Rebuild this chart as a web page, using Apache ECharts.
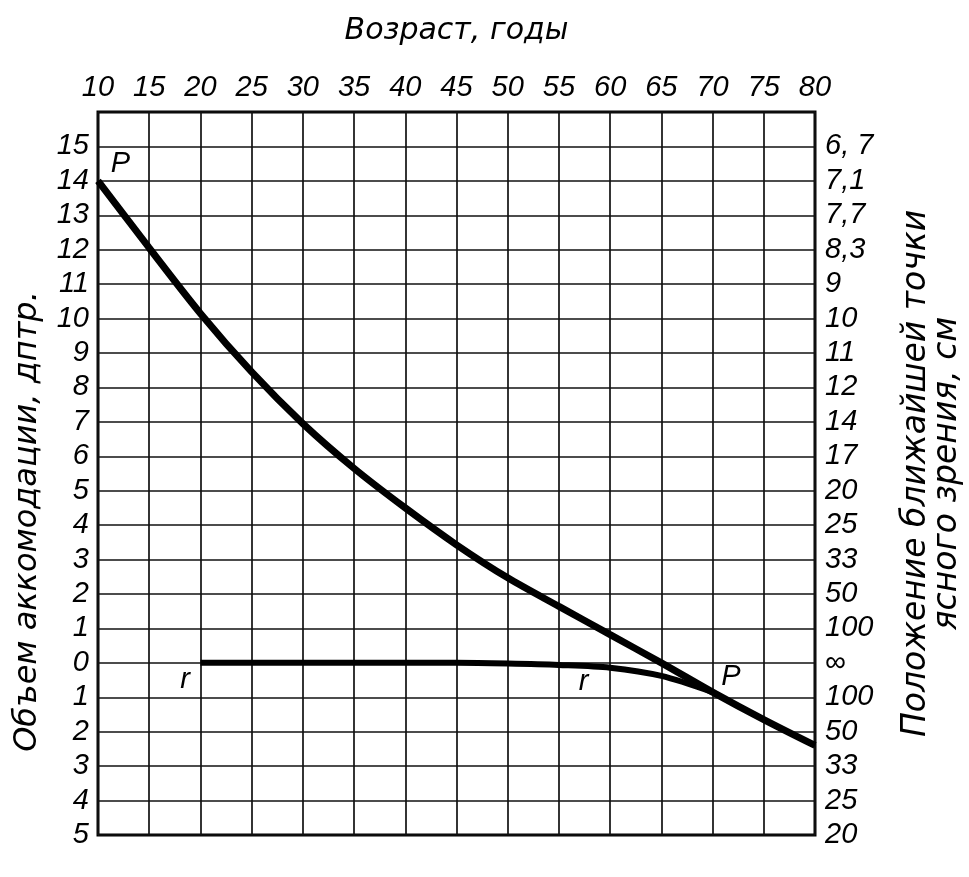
<!DOCTYPE html>
<html>
<head>
<meta charset="utf-8">
<script src="https://cdn.jsdelivr.net/npm/echarts@6/dist/echarts.min.js"></script>
<style>
html,body{margin:0;padding:0;background:#fff;overflow:hidden;}
#chart{width:969px;height:877px;}
</style>
</head>
<body>
<div id="chart"></div>
<script>
// Age axis (years)
const ageMin = 10, ageMax = 80, ageStep = 5;
// Accommodation axis (diopters)
const dMin = -5, dMax = 16, dStep = 1;
// Left tick labels for values -5 .. 15
const leftLabels = ['5','4','3','2','1','0','1','2','3','4','5','6','7','8','9','10','11','12','13','14','15'];
// Right tick labels (near point distance, cm) for values -5 .. 15
const rightLabels = ['20','25','33','50','100','∞','100','50','33','25','20','17','14','12','11','10','9','8,3','7,7','7,1','6, 7'];

// Curve P (near point)
const pAges   = [10, 15, 20, 25, 30, 35, 40, 45, 50, 55, 60, 65, 70, 75, 80];
const pValues = [14, 12.05, 10.15, 8.45, 6.95, 5.65, 4.5, 3.43, 2.47, 1.64, 0.82, 0.0, -0.85, -1.65, -2.4];
// Curve r (far point)
const rAges   = [20, 25, 30, 35, 40, 45, 50, 55, 60, 65, 70];
const rValues = [0, 0, 0, 0, 0, 0, -0.02, -0.06, -0.14, -0.38, -0.85];

// Curve annotations
const noteNames = ['P', 'r', 'r', 'P'];
const noteAges  = [12.2, 18.5, 57.4, 71.8];
const noteVals  = [14.5, -0.5, -0.55, -0.4];

const tickFont = {fontFamily: '"Liberation Sans", Arial, sans-serif', fontStyle: 'italic', fontSize: 29, color: '#000'};
const titleFont = {fontFamily: '"DejaVu Sans", sans-serif', fontStyle: 'italic', color: '#000'};

const chart = echarts.init(document.getElementById('chart'), null, {renderer: 'canvas'});
const option = {
  backgroundColor: '#fff',
  animation: false,
  grid: {left: 98, right: 154, top: 112, bottom: 42, containLabel: false, outerBoundsMode: 'none',
         show: true, borderColor: '#000', borderWidth: 3, backgroundColor: 'transparent'},
  xAxis: {
    type: 'value', position: 'top', min: ageMin, max: ageMax, interval: ageStep,
    name: 'Возраст, годы', nameLocation: 'middle', nameGap: 66,
    nameTextStyle: Object.assign({}, titleFont, {fontSize: 30}),
    axisLine: {show: false}, axisTick: {show: false},
    axisLabel: Object.assign({margin: 10}, tickFont),
    splitLine: {show: true, lineStyle: {color: '#111', width: 1.7}}
  },
  yAxis: [{
    type: 'value', position: 'left', min: dMin, max: dMax, interval: dStep,
    name: 'Объем аккомодации, дптр.', nameLocation: 'middle', nameGap: 54, nameRotate: 90,
    nameTextStyle: Object.assign({}, titleFont, {fontSize: 32, padding: [0, 96, 0, 0]}),
    axisLine: {show: false}, axisTick: {show: false},
    axisLabel: Object.assign({margin: 9, formatter: v => leftLabels[Math.round(v - dMin)] || ''}, tickFont),
    splitLine: {show: true, lineStyle: {color: '#111', width: 1.7}}
  }, {
    type: 'value', position: 'right', min: dMin, max: dMax, interval: dStep,
    name: 'Положение ближайшей точки\nясного зрения, см', nameLocation: 'middle', nameGap: 86, nameRotate: 90,
    nameTextStyle: Object.assign({}, titleFont, {fontSize: 33, lineHeight: 31}),
    axisLine: {show: false}, axisTick: {show: false},
    axisLabel: Object.assign({margin: 10, formatter: v => rightLabels[Math.round(v - dMin)] || ''}, tickFont),
    splitLine: {show: false}
  }],
  series: [{
    name: 'P', type: 'line', smooth: 0.3, showSymbol: false, symbol: 'none',
    lineStyle: {color: '#000', width: 7},
    data: pAges.map((a, i) => [a, pValues[i]]), z: 3
  }, {
    name: 'r', type: 'line', smooth: 0.3, showSymbol: false, symbol: 'none',
    lineStyle: {color: '#000', width: 6},
    data: rAges.map((a, i) => [a, rValues[i]]), z: 3
  }, {
    name: 'notes', type: 'scatter', symbolSize: 1, itemStyle: {color: 'rgba(0,0,0,0)', opacity: 1},
    label: Object.assign({show: true, position: 'inside', formatter: p => p.name}, tickFont, {fontSize: 29, color: '#000', opacity: 1}),
    data: noteNames.map((n, i) => ({name: n, value: [noteAges[i], noteVals[i]]})), z: 4
  }]
};
chart.setOption(option);
</script>
</body>
</html>
